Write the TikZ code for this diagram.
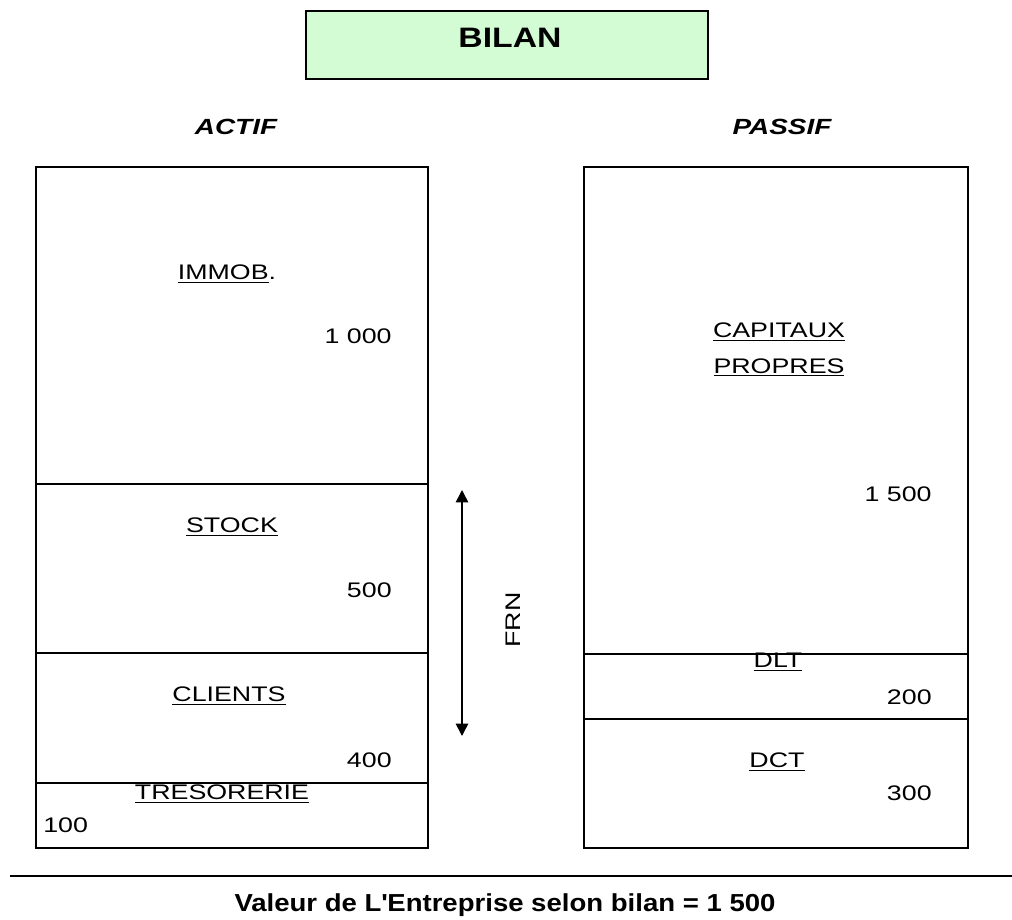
\documentclass[tikz,border=0pt]{standalone}
\usepackage{fontspec}
\setmainfont{Liberation Sans}
\newfontfamily\wide[FakeStretch=1.27]{Liberation Sans}
\newfontfamily\widetitle[FakeStretch=1.2]{Liberation Sans}
\newfontfamily\widebottom[FakeStretch=1.12]{Liberation Sans}
\usepackage{tikz}
\usetikzlibrary{arrows.meta,positioning}

\newcommand{\ul}[1]{\underline{#1}}

\begin{document}
\begin{tikzpicture}[
    x=0.02cm, y=-0.02cm,
    label/.style={font=\wide\fontsize{12}{14}\selectfont, inner sep=0pt},
    montant/.style={label, anchor=east},
    side/.style={font=\wide\fontsize{12.5}{15}\selectfont\bfseries\itshape, inner sep=0pt},
    frame/.style={draw, line width=0.9pt},
    split/.style={line width=0.7pt}
]
\useasboundingbox (0,0) rectangle (1012,920);

\node[draw, line width=0.9pt, fill={rgb,255:red,212;green,252;blue,212}, minimum width=402*0.02cm, minimum height=68*0.02cm, inner sep=0pt] (bilan) at (507,45) {};
\node[font=\widetitle\fontsize{16}{18}\selectfont\bfseries, inner sep=0pt] (titre) at (510,38) {BILAN};

\node[side] (actif) at (236,127) {ACTIF};
\node[side] (passif) at (782,127) {PASSIF};

% actif
\draw[frame] (36,167) rectangle (428,848);
\draw[split] (36,484) -- (428,484);
\draw[split] (36,653) -- (428,653);
\draw[split] (36,783) -- (428,783);

\node[label] (immob) at (227,274) {\ul{IMMOB}.};
\node[montant] (vimmob) at (392,336) {1 000};
\node[label] (stock) at (232,527) {\ul{STOCK}};
\node[montant] (vstock) at (392,590) {500};
\node[label] (clients) at (229,696) {\ul{CLIENTS}};
\node[montant] (vclients) at (392,760) {400};
\node[label] (treso) at (222,794) {\ul{TRESORERIE}};
\node[label, anchor=west] (vtreso) at (43,825) {100};

% passif
\draw[frame] (584,167) rectangle (968,848);
\draw[line width=1.4pt] (584,654) -- (968,654);
\draw[split] (584,719) -- (968,719);

\node[label, align=center] (cp) at (779,350) {\ul{CAPITAUX}\\[6pt]\ul{PROPRES}};
\node[montant] (vcp) at (932,494) {1 500};
\node[label] (dlt) at (778,662) {\ul{DLT}};
\node[montant] (vdlt) at (932,697) {200};
\node[label] (dct) at (777,762) {\ul{DCT}};
\node[montant] (vdct) at (932,793) {300};

% FRN
\coordinate (haut) at (462,490);
\coordinate (bas) at (462,736);
\draw[line width=0.9pt, {Triangle[length=7pt,width=7pt]}-{Triangle[length=7pt,width=7pt]}] (haut) -- (bas);
\node[label, rotate=90] (frn) at (513,620) {FRN};

\coordinate (gauche) at (10,876);
\coordinate (droite) at (1012,876);
\draw[line width=1.2pt] (gauche) -- (droite);
\node[font=\widebottom\fontsize{14}{16}\selectfont\bfseries, inner sep=0pt] (valeur) at (505,905) {Valeur de L\textquotesingle Entreprise selon bilan = 1 500};

\end{tikzpicture}
\end{document}
